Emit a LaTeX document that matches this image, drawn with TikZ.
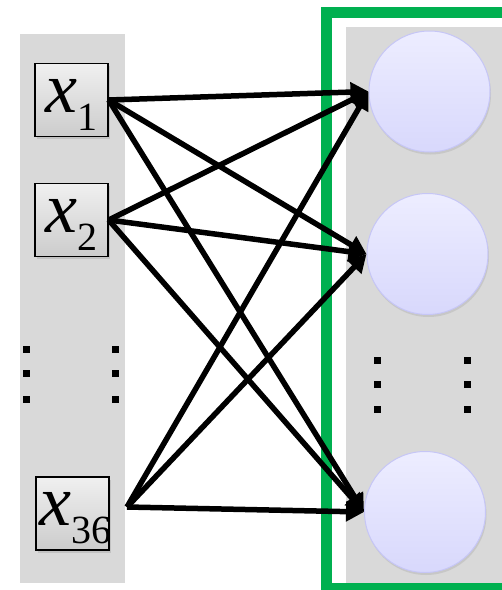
\documentclass[tikz,border=0pt]{standalone}
\usepackage{fontspec}
\setmainfont{Liberation Serif}
\usetikzlibrary{arrows.meta,shadows}
\definecolor{panelgray}{HTML}{D9D9D9}
\definecolor{framegreen}{HTML}{00B050}
\definecolor{neurontop}{HTML}{EDEDFF}
\definecolor{neuronbot}{HTML}{D8D8FC}
\definecolor{neuronline}{HTML}{C6C6F6}
\newcommand{\invar}[1]{%
  {\fontsize{72}{72}\selectfont\itshape x}%
  \raisebox{-18pt}{\fontsize{40}{40}\selectfont #1}}
\tikzset{
  input box/.style={
    rectangle, draw=black, line width=1.4pt, inner sep=0pt,
    minimum size=73pt, text height=38pt, text depth=14pt,
    top color=gray!12, bottom color=gray!40,
    drop shadow={opacity=0.25, shadow xshift=1.5pt, shadow yshift=-2.5pt}
  },
  neuron/.style={
    circle, draw=neuronline, line width=1pt, inner sep=0pt,
    minimum size=121pt, top color=neurontop, bottom color=neuronbot,
    drop shadow={opacity=0.2, shadow xshift=1pt, shadow yshift=-2.5pt}
  },
  dot sq/.style={
    rectangle, fill=black, inner sep=0pt, minimum size=7pt
  },
  link/.style={
    line width=5.5pt, -{Triangle[length=18pt, width=19pt]}
  }
}

\begin{document}
\begin{tikzpicture}[x=1pt, y=-1pt]
  \useasboundingbox (0,0) rectangle (502,590);
  \clip (0,0) rectangle (502,590);

  % ------------------------------------------------
  % panels and frame
  % ------------------------------------------------
  \fill[panelgray] (20,34) rectangle (125,583);
  \fill[panelgray] (346,27) rectangle (510,583);
  \draw[framegreen, line width=11pt]
    (502,12.5) -- (326.5,12.5) -- (326.5,588.5) -- (502,588.5);

  % ------------------------------------------------
  % inputs and neurons
  % ------------------------------------------------
  \node[input box] (in1) at (71.5,100)   {\makebox[0pt]{\invar{1}}};
  \node[input box] (in2) at (71.5,220)   {\makebox[0pt]{\invar{2}}};
  \node[input box] (in3) at (72.5,513.5) {\makebox[0pt]{\hspace*{6pt}\invar{36}}};
  \coordinate (s36) at (127,507);

  \node[neuron] (n1) at (429.5, 91.5) {};
  \node[neuron] (n2) at (427.5,254)   {};
  \node[neuron] (n3) at (425,  512)   {};

  \foreach \y in {349,373,399} {
    \node[dot sq] (dla\y) at ( 26,\y) {};
    \node[dot sq] (dlb\y) at (115,\y) {};
  }
  \foreach \y in {360,384,409} {
    \node[dot sq] (dra\y) at (377,\y) {};
    \node[dot sq] (drb\y) at (467,\y) {};
  }

  % ------------------------------------------------
  % full connections
  % ------------------------------------------------
  \foreach \s in {in1.east, in2.east, s36}
    \foreach \t in {n1, n2, n3}
      \draw[link] (\s) -- (\t.west);
\end{tikzpicture}
\end{document}
